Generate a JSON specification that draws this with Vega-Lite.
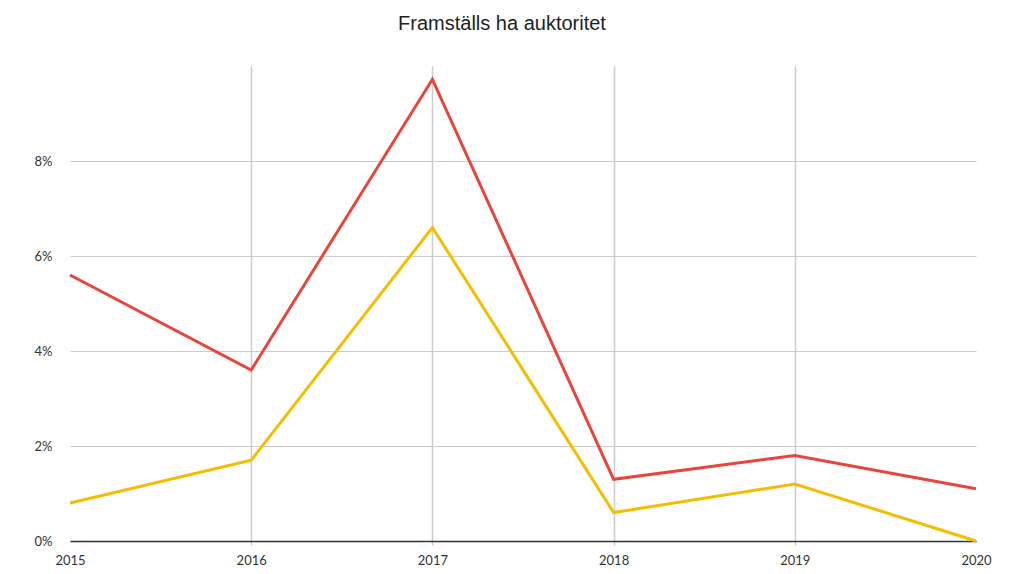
{
  "$schema": "https://vega.github.io/schema/vega-lite/v6.json",
  "width": 906,
  "height": 475,
  "autosize": "none",
  "padding": {"left": 70, "top": 66, "right": 34, "bottom": 33},
  "background": "white",
  "title": {
    "text": "Framställs ha auktoritet",
    "font": "Liberation Sans",
    "fontSize": 20,
    "fontWeight": "normal",
    "color": "#222222",
    "offset": 32,
    "dx": -21
  },
  "data": {
    "values": [
      {"year": 2015, "series": "A", "value": 5.6},
      {"year": 2016, "series": "A", "value": 3.6},
      {"year": 2017, "series": "A", "value": 9.72},
      {"year": 2018, "series": "A", "value": 1.3},
      {"year": 2019, "series": "A", "value": 1.8},
      {"year": 2020, "series": "A", "value": 1.1},
      {"year": 2015, "series": "B", "value": 0.8},
      {"year": 2016, "series": "B", "value": 1.7},
      {"year": 2017, "series": "B", "value": 6.6},
      {"year": 2018, "series": "B", "value": 0.6},
      {"year": 2019, "series": "B", "value": 1.2},
      {"year": 2020, "series": "B", "value": 0}
    ]
  },
  "config": {
    "view": {"stroke": null},
    "axis": {"labelFont": "Lato", "labelFontSize": 13, "labelColor": "#333333"}
  },
  "mark": {"type": "line", "strokeWidth": 3, "clip": false},
  "encoding": {
    "x": {
      "field": "year",
      "type": "quantitative",
      "scale": {"domain": [2015, 2020], "nice": false, "zero": false},
      "axis": {
        "title": null,
        "values": [2015, 2016, 2017, 2018, 2019, 2020],
        "format": "d",
        "labelPadding": 9,
        "domainColor": "#333333",
        "domainWidth": 1.5,
        "grid": true,
        "gridColor": "#cccccc",
        "gridWidth": 1.5,
        "gridOpacity": {"condition": {"test": "datum.value == 2015 || datum.value == 2020", "value": 0}, "value": 1},
        "ticks": true,
        "tickColor": "#cccccc",
        "tickWidth": 1.5,
        "tickSize": 4,
        "tickOpacity": {"condition": {"test": "datum.value == 2015 || datum.value == 2020", "value": 0}, "value": 1},
        "labelFlush": false
      }
    },
    "y": {
      "field": "value",
      "type": "quantitative",
      "scale": {"domain": [0, 10], "nice": false},
      "axis": {
        "title": null,
        "values": [0, 2, 4, 6, 8],
        "labelExpr": "datum.value + '%'",
        "domain": false,
        "ticks": false,
        "labelPadding": 18,
        "gridColor": "#cccccc",
        "gridWidth": 1.2
      }
    },
    "color": {
      "field": "series",
      "type": "nominal",
      "scale": {"domain": ["A", "B"], "range": ["#e8453c", "#f5bd00"]},
      "legend": null
    }
  }
}
